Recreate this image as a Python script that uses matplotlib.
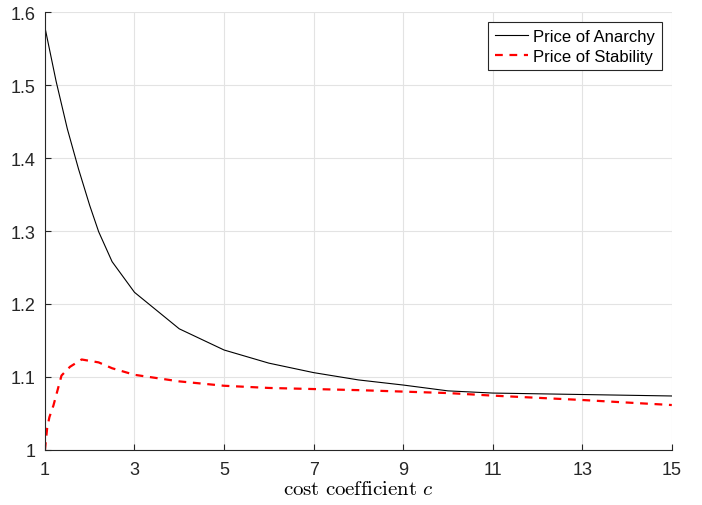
import matplotlib
matplotlib.use("Agg")
import matplotlib.pyplot as plt

plt.rcParams['font.family'] = ['Liberation Sans', 'DejaVu Sans']
plt.rcParams['mathtext.fontset'] = 'cm'

# Price of Anarchy
c_poa = [1, 1.25, 1.5, 1.75, 2, 2.2, 2.5, 3, 4, 5, 6, 7, 8, 9, 10, 11, 12, 13, 14, 15]
poa = [1.579, 1.505, 1.44, 1.385, 1.335, 1.299, 1.258, 1.216, 1.166, 1.137, 1.119,
       1.106, 1.096, 1.089, 1.081, 1.078, 1.077, 1.076, 1.075, 1.074]

# Price of Stability
c_pos = [1, 1.05, 1.1, 1.19, 1.37, 1.56, 1.82, 2.2, 2.5, 3, 4, 5, 6, 7, 8, 9, 10, 11, 12, 13, 14, 15]
pos = [1.0, 1.03, 1.045, 1.061, 1.102, 1.114, 1.124, 1.12, 1.112, 1.103, 1.094, 1.088,
       1.085, 1.0835, 1.082, 1.080, 1.078, 1.0745, 1.0715, 1.0685, 1.065, 1.0616]

xticks = [1, 3, 5, 7, 9, 11, 13, 15]
yticks = [1, 1.1, 1.2, 1.3, 1.4, 1.5, 1.6]
ytick_labels = ['1', '1.1', '1.2', '1.3', '1.4', '1.5', '1.6']

fig = plt.figure(figsize=(7.02, 5.06), dpi=100)
ax = fig.add_axes([0.064, 0.1087, 0.893, 0.8656])

ax.plot(c_poa, poa, color='black', lw=0.8, label='Price of Anarchy')
ax.plot(c_pos, pos, color='red', lw=1.6, ls=(0, (3.5, 3)), label='Price of Stability')

ax.set_xlim(1, 15)
ax.set_ylim(1, 1.6)
ax.set_xticks(xticks)
ax.set_yticks(yticks)
ax.set_yticklabels(ytick_labels)
ax.tick_params(direction='in', length=4, labelsize=13, colors='#262626')
ax.tick_params(axis='x', pad=8)
ax.tick_params(axis='y', pad=7)
ax.grid(True, color='#e3e3e3', lw=0.8)
ax.set_axisbelow(True)
for s in ['top', 'right']:
    ax.spines[s].set_visible(False)
for s in ['left', 'bottom']:
    ax.spines[s].set_color('#262626')
    ax.spines[s].set_linewidth(0.8)

ax.set_xlabel(r'$\mathrm{cost\ coefficient}\ c$', fontsize=15, labelpad=1)

leg = ax.legend(loc='upper right', fontsize=12, fancybox=False, framealpha=1,
                edgecolor='#262626', borderpad=0.4, handlelength=2.0,
                handletextpad=0.3, labelspacing=0.3, borderaxespad=0.6)
leg.get_frame().set_linewidth(0.8)

fig.savefig('out.png', dpi=100)
